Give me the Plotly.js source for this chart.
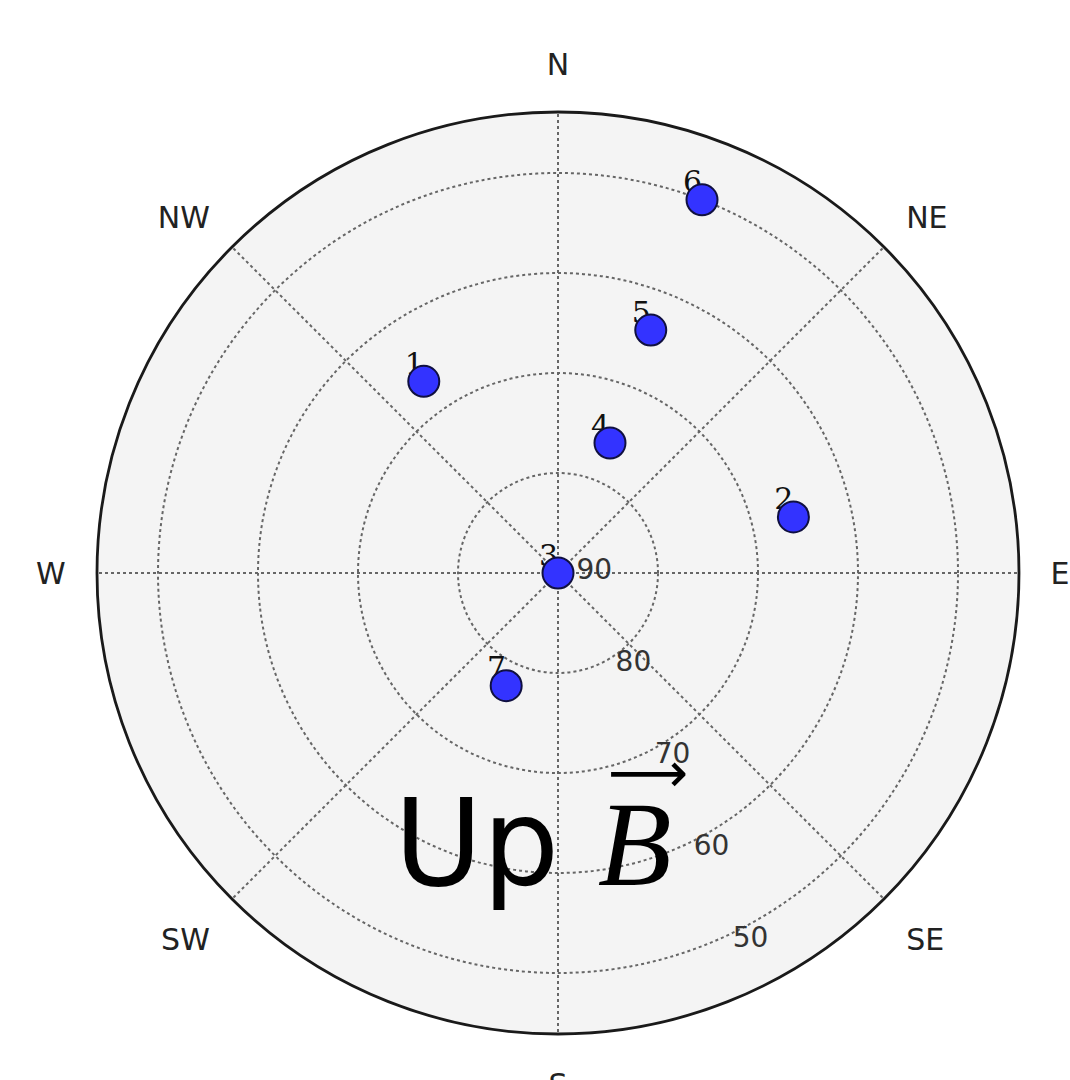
<!DOCTYPE html>
<html>
<head>
<meta charset="utf-8">
<script src="https://cdn.plot.ly/plotly-3.0.1.min.js"></script>
<style>html,body{margin:0;padding:0;background:#fff;}#chart{width:1070px;height:1080px;}</style>
</head>
<body>
<div id="chart"></div>
<script>
// Satellite / point labels, elevation (deg) and azimuth (deg, clockwise from N)
const labels = ['1', '2', '3', '4', '5', '6', '7'];
const elevation = [66.6, 65.8, 90.0, 76.0, 64.0, 50.0, 77.6];
const azimuth = [325, 76.6, 0, 21.8, 20.9, 21.1, 204.7];

// Radial ticks: elevation labels
const elevTicks = [90, 80, 70, 60, 50];
const compassVals = [0, 45, 90, 135, 180, 225, 270, 315];
const compassText = ['N', 'NE', 'E', 'SE', 'S', 'SW', 'W', 'NW'];
const minElevation = 43.9;

const zen = elevation.map(e => 90 - e);
const radialAngle = -67;

const traces = [
  {
    type: 'scatterpolar', mode: 'text',
    r: zen, theta: azimuth, text: labels,
    textposition: 'top left',
    textfont: {family: 'DejaVu Serif', size: 30, color: '#111'},
    hoverinfo: 'skip', showlegend: false
  },
  {
    type: 'scatterpolar', mode: 'markers',
    r: zen, theta: azimuth,
    marker: {size: 31, color: '#3333ff', line: {color: '#101040', width: 2}},
    showlegend: false
  }
];

const layout = {
  width: 1070, height: 1080,
  margin: {l: 97, r: 51, t: 112, b: 46},
  paper_bgcolor: '#ffffff',
  showlegend: false,
  polar: {
    domain: {x: [0, 1], y: [0, 1]},
    bgcolor: '#f4f4f4',
    radialaxis: {
      range: [0, 90 - minElevation],
      tickvals: elevTicks.map(e => 90 - e),
      ticktext: elevTicks.map(String),
      angle: radialAngle,
      tickangle: radialAngle,
      side: 'counterclockwise',
      showline: false,
      ticks: '',
      tickfont: {family: 'DejaVu Sans', size: 28, color: '#333'},
      gridcolor: '#666', griddash: 'dot', gridwidth: 1.5
    },
    angularaxis: {
      direction: 'clockwise', rotation: 90,
      tickvals: compassVals, ticktext: compassText,
      ticks: 'outside', ticklen: 24, tickcolor: 'rgba(0,0,0,0)',
      tickfont: {family: 'DejaVu Sans', size: 30, color: '#222'},
      showline: true, linecolor: '#1a1a1a', linewidth: 2.8,
      gridcolor: '#666', griddash: 'dot', gridwidth: 1.5
    }
  },
  annotations: [
    {
      xref: 'paper', yref: 'paper', x: 0.473, y: 0.207,
      xanchor: 'center', yanchor: 'middle', showarrow: false,
      text: "Up <span style='font-family:Liberation Serif'><i>B</i></span>",
      font: {family: 'DejaVu Sans', size: 121, color: '#000'}
    },
    {
      xref: 'paper', yref: 'paper', x: 0.598, y: 0.284,
      xanchor: 'center', yanchor: 'middle', showarrow: false,
      text: '⟶',
      font: {family: 'DejaVu Sans', size: 56, color: '#000'}
    }
  ]
};

Plotly.newPlot('chart', traces, layout, {displayModeBar: false});
</script>
</body>
</html>
